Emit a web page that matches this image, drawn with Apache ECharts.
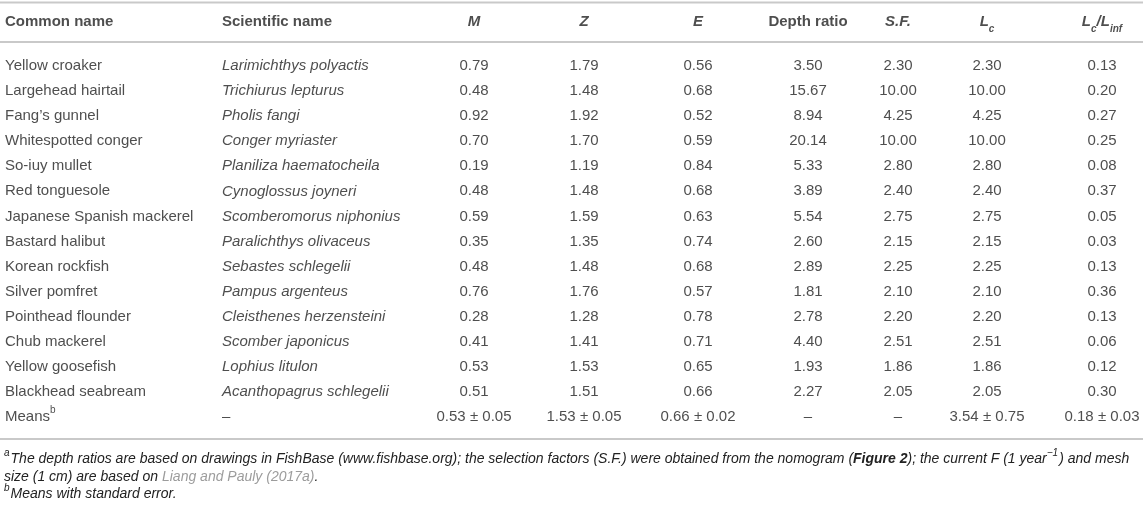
<!DOCTYPE html>
<html>
<head>
<meta charset="UTF-8">
<title>Table</title>
<script src="https://cdn.jsdelivr.net/npm/echarts@6/dist/echarts.min.js"></script>
<style>
  html, body { margin: 0; padding: 0; background: #fff; }
  #main { width: 1143px; height: 507px; }
</style>
</head>
<body>
<div id="main"></div>
<script type="text/javascript">
// table data
var commonNames = ['Yellow croaker', 'Largehead hairtail', 'Fang\u2019s gunnel', 'Whitespotted conger',
  'So-iuy mullet', 'Red tonguesole', 'Japanese Spanish mackerel', 'Bastard halibut', 'Korean rockfish',
  'Silver pomfret', 'Pointhead flounder', 'Chub mackerel', 'Yellow goosefish', 'Blackhead seabream'];
var sciNames = ['Larimichthys polyactis', 'Trichiurus lepturus', 'Pholis fangi', 'Conger myriaster',
  'Planiliza haematocheila', 'Cynoglossus joyneri', 'Scomberomorus niphonius', 'Paralichthys olivaceus',
  'Sebastes schlegelii', 'Pampus argenteus', 'Cleisthenes herzensteini', 'Scomber japonicus',
  'Lophius litulon', 'Acanthopagrus schlegelii'];
var mVals = [0.79, 0.48, 0.92, 0.70, 0.19, 0.48, 0.59, 0.35, 0.48, 0.76, 0.28, 0.41, 0.53, 0.51];
var zVals = [1.79, 1.48, 1.92, 1.70, 1.19, 1.48, 1.59, 1.35, 1.48, 1.76, 1.28, 1.41, 1.53, 1.51];
var eVals = [0.56, 0.68, 0.52, 0.59, 0.84, 0.68, 0.63, 0.74, 0.68, 0.57, 0.78, 0.71, 0.65, 0.66];
var depthVals = [3.50, 15.67, 8.94, 20.14, 5.33, 3.89, 5.54, 2.60, 2.89, 1.81, 2.78, 4.40, 1.93, 2.27];
var sfVals = [2.30, 10.00, 4.25, 10.00, 2.80, 2.40, 2.75, 2.15, 2.25, 2.10, 2.20, 2.51, 1.86, 2.05];
var lcVals = [2.30, 10.00, 4.25, 10.00, 2.80, 2.40, 2.75, 2.15, 2.25, 2.10, 2.20, 2.51, 1.86, 2.05];
var ratioVals = [0.13, 0.20, 0.27, 0.25, 0.08, 0.37, 0.05, 0.03, 0.13, 0.36, 0.13, 0.06, 0.12, 0.30];
var meansRow = ['{t|Means}{sup|b}', '\u2013', '0.53 \u00b1 0.05', '1.53 \u00b1 0.05', '0.66 \u00b1 0.02',
  '\u2013', '\u2013', '3.54 \u00b1 0.75', '0.18 \u00b1 0.03'];
var headers = ['{b|Common name}', '{b|Scientific name}', '{bi|M}', '{bi|Z}', '{bi|E}', '{b|Depth ratio}',
  '{bi|S.F.}', '{bi|L}{bsub|c}', '{bi|L}{bsub|c}{bi|/L}{bsub|inf}'];
var footnotes = [
  '{sup|a}{it|The depth ratios are based on drawings in FishBase (www.fishbase.org); the selection factors (S.F.) were obtained from the nomogram (}{bi|Figure 2}{it|); the current F (1 year}{sup|\u22121}{it|) and mesh}',
  '{it|size (1 cm) are based on }{link|Liang and Pauly (2017a)}{it|.}',
  '{sup|b}{it|Means with standard error.}'
];

// layout
var W = 1143, H = 507;
var rowTop = 66, rowStep = 25.07, headerY = 21.5;
var colX = [5, 222, 474, 584, 698, 808, 898, 987, 1102];
var colAlign = ['left', 'left', 'center', 'center', 'center', 'center', 'center', 'center', 'center'];
var ink = '#222';
var font = 'Liberation Sans, Arial, Helvetica, sans-serif';

var columns = [commonNames, sciNames, mVals, zVals, eVals, depthVals, sfVals, lcVals, ratioVals];
var yMin = -rowTop / rowStep;
var yMax = yMin + H / rowStep;
var headerRow = (headerY - rowTop) / rowStep;

var rich = {
  t: { fontFamily: font, fontSize: 15, color: ink, lineHeight: 20 },
  it: { fontFamily: font, fontSize: 15, fontStyle: 'italic', color: ink, lineHeight: 20 },
  b: { fontFamily: font, fontSize: 15, fontWeight: 'bold', color: ink, lineHeight: 20 },
  bi: { fontFamily: font, fontSize: 15, fontWeight: 'bold', fontStyle: 'italic', color: ink, lineHeight: 20 },
  bsub: { fontFamily: font, fontSize: 10, fontWeight: 'bold', fontStyle: 'italic', color: ink, lineHeight: 20,
    verticalAlign: 'bottom', padding: [0, 0, -3, 0] },
  sup: { fontFamily: font, fontSize: 10, color: ink, lineHeight: 20, verticalAlign: 'top', padding: [-2, 0, 0, 0] }
};

function cellText(col, v) {
  return typeof v === 'number' ? '{t|' + v.toFixed(2) + '}' : (col === 1 ? '{it|' + v + '}' : '{t|' + v + '}');
}

var series = columns.map(function (vals, c) {
  var data = [{ name: headers[c], value: [colX[c], headerRow] }];
  vals.forEach(function (v, i) {
    data.push({ name: cellText(c, v), value: [colX[c], i] });
  });
  var m = meansRow[c];
  data.push({ name: m.charAt(0) === '{' ? m : '{t|' + m + '}', value: [colX[c], vals.length] });
  return {
    type: 'scatter',
    symbolSize: 0,
    silent: true,
    clip: false,
    data: data,
    label: {
      show: true,
      position: 'inside',
      align: colAlign[c],
      verticalAlign: 'middle',
      formatter: '{b}',
      rich: rich
    }
  };
});

var ruleColor = '#c9c9c9';
function rule(y) {
  return { type: 'line', silent: true, shape: { x1: 0, y1: y, x2: W, y2: y },
    style: { stroke: ruleColor, lineWidth: 2 } };
}

// graphic text uses zrender style names (fill instead of color)
var footRich = {
  it: { fontFamily: font, fontSize: 14, fontStyle: 'italic', fill: ink, lineHeight: 18 },
  bi: { fontFamily: font, fontSize: 14, fontStyle: 'italic', fontWeight: 'bold', fill: ink, lineHeight: 18 },
  link: { fontFamily: font, fontSize: 14, fontStyle: 'italic', fill: '#9c9c9c', lineHeight: 18 },
  sup: { fontFamily: font, fontSize: 10, fontStyle: 'italic', fill: ink, lineHeight: 18, verticalAlign: 'top', padding: [-2, 1, 0, 0] }
};
var footY = [459, 477, 494];

var myChart = echarts.init(document.getElementById('main'), null, { renderer: 'canvas' });
var option = {
  animation: false,
  backgroundColor: '#fff',
  grid: { left: 0, right: 0, top: 0, bottom: 0 },
  xAxis: { type: 'value', min: 0, max: W, show: false },
  yAxis: { type: 'value', inverse: true, min: yMin, max: yMax, show: false },
  series: series,
  graphic: [rule(2.5), rule(42), rule(439)].concat(footnotes.map(function (f, i) {
    return { type: 'text', silent: true, x: 4, y: footY[i],
      style: { text: f, rich: footRich, fill: ink, verticalAlign: 'middle', align: 'left' } };
  }))
};
myChart.setOption(option);
</script>
</body>
</html>
